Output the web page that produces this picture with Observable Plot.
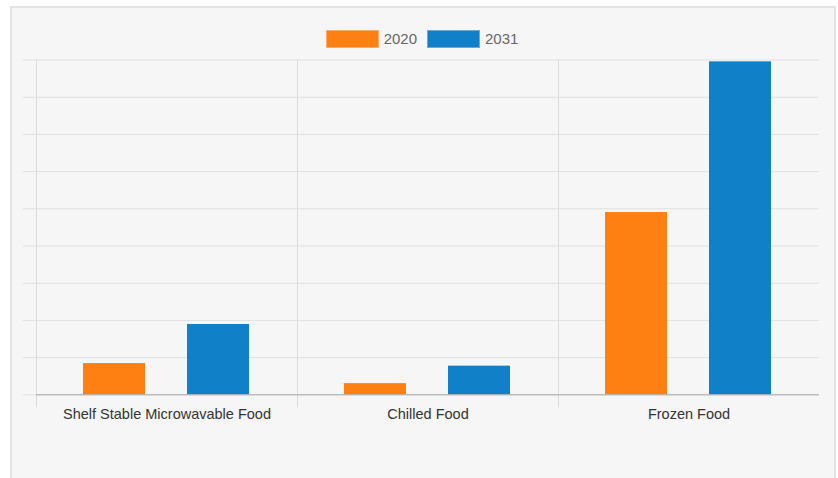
<!DOCTYPE html>
<html>
<head>
<meta charset="utf-8">
<script src="https://cdn.jsdelivr.net/npm/d3@7"></script>
<script src="https://cdn.jsdelivr.net/npm/@observablehq/plot@0.6"></script>
<style>
  html, body { margin: 0; padding: 0; background: #ffffff; }
  body { width: 838px; height: 478px; position: relative; overflow: hidden; font-family: "Liberation Sans", Arial, sans-serif; }
  #frame { position: absolute; left: 10px; top: 6px; width: 826px; height: 480px; box-sizing: border-box;
           border: 2px solid #e3e3e3; background: #f6f6f6; }
  #wrap { position: absolute; left: 0; top: 0; width: 838px; }
  #legend { height: 52px; box-sizing: border-box; padding-top: 30px; padding-left: 6px;
            display: flex; justify-content: center; align-items: flex-start; }
  .item { display: flex; align-items: center; height: 18px; margin: 0 5px; }
  .sw { width: 53px; height: 18px; box-sizing: border-box; border: 1px solid rgba(255,255,255,0.35); margin-right: 5px; }
  .lb { font-size: 15px; color: #666; line-height: 18px; }
  svg { display: block; }
</style>
</head>
<body>
<div id="frame"></div>
<div id="wrap">
  <div id="legend"></div>
  <div id="chart"></div>
</div>
<script>
const categories = ["Shelf Stable Microwavable Food", "Chilled Food", "Frozen Food"];
const years = ["2020", "2031"];
const values2020 = [0.84, 0.30, 4.90];
const values2031 = [1.89, 0.77, 8.95];
const yTicks = [0, 1, 2, 3, 4, 5, 6, 7, 8, 9];
const colors = ["#ff8012", "#1080c8"];

const data = categories.flatMap((c, i) => [
  {category: c, year: years[0], value: values2020[i]},
  {category: c, year: years[1], value: values2031[i]}
]);

// Legend
const legend = document.getElementById("legend");
years.forEach((yr, i) => {
  const item = document.createElement("div");
  item.className = "item";
  const sw = document.createElement("span");
  sw.className = "sw";
  sw.style.background = colors[i];
  const lb = document.createElement("span");
  lb.className = "lb";
  lb.textContent = yr;
  item.appendChild(sw);
  item.appendChild(lb);
  legend.appendChild(item);
});

const chart = Plot.plot({
  width: 838,
  height: 426,
  marginTop: 7.5,
  marginBottom: 83.7,
  marginLeft: 35,
  marginRight: 18,
  style: {background: "transparent", fontFamily: "'Liberation Sans', Arial, sans-serif"},
  fx: {domain: categories, padding: 0, label: null},
  x: {domain: years, paddingInner: 0.4, paddingOuter: 0.45, axis: null},
  y: {domain: [0, 9], axis: null, label: null},
  color: {domain: years, range: colors},
  marks: [
    Plot.ruleY(yTicks, {stroke: "#e0e0e0", strokeWidth: 1}),
    Plot.axisY(yTicks, {tickSize: 13, tickFormat: () => "", stroke: "#e0e0e0", label: null}),
    Plot.frame({anchor: "left", stroke: "#dcdcdc", insetBottom: -12}),
    Plot.barY(data, {fx: "category", x: "year", y: "value", fill: "year"}),
    Plot.ruleY([0], {stroke: "#a8a8a8"}),
    Plot.axisFx({anchor: "bottom", tickSize: 0, tickPadding: 14, fontSize: 14.5, color: "#333", label: null})
  ]
});
document.getElementById("chart").appendChild(chart);
</script>
</body>
</html>
